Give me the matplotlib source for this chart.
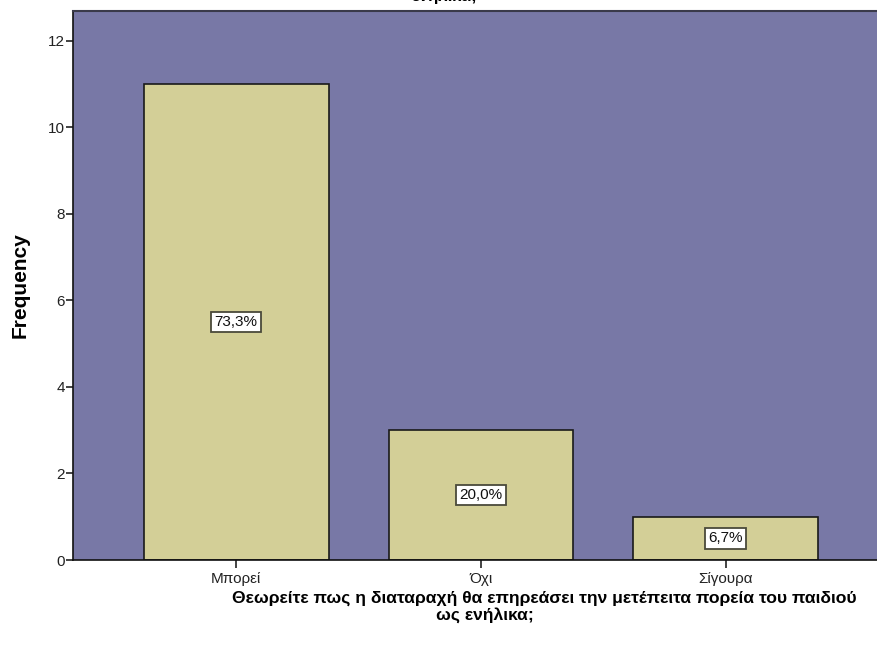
import matplotlib
matplotlib.use("Agg")
import matplotlib.pyplot as plt

plt.rcParams['font.family'] = ['Liberation Sans', 'DejaVu Sans']

categories = ["Μπορεί", "Όχι", "Σίγουρα"]
frequencies = [11, 3, 1]
percent_labels = ["73,3%", "20,0%", "6,7%"]
y_ticks = [0, 2, 4, 6, 8, 10, 12]

title_tail = "ενήλικα;"
xlabel_line1 = "Θεωρείτε πως η διαταραχή θα επηρεάσει την μετέπειτα πορεία του παιδιού"
xlabel_line2 = "ως ενήλικα;"

W, H = 878, 648
fig = plt.figure(figsize=(W / 100, H / 100), dpi=100)
fig.patch.set_facecolor("white")

left_px, right_px, top_px, bottom_px = 73, 889, 11, 560
ax = fig.add_axes([left_px / W, 1 - bottom_px / H,
                   (right_px - left_px) / W, (bottom_px - top_px) / H])
ax.set_facecolor("#7878a6")

x = list(range(len(categories)))
ax.bar(x, frequencies, width=0.755, color="#d3cf97", edgecolor="#1a1a1a",
       linewidth=1.2, zorder=2)

for xi, f, lab in zip(x, frequencies, percent_labels):
    ax.text(xi, f / 2, lab, ha="center", va="center", fontsize=11,
            color="#111111", zorder=3,
            bbox=dict(boxstyle="square,pad=0.22", facecolor="white",
                      edgecolor="#4a4a3a", linewidth=1.3))

ax.set_xlim(-0.667, 2.667)
ax.set_ylim(0, 12.69)
ax.set_yticks(y_ticks)
ax.set_xticks(x)
ax.set_xticklabels(categories)

ax.tick_params(axis="y", direction="out", length=5, width=1.2, color="#222222",
               labelsize=11, labelcolor="#222222", pad=1)
ax.tick_params(axis="x", direction="out", length=6, width=1.2, color="#222222",
               labelsize=11, labelcolor="#222222", pad=3)

for side in ("left", "bottom"):
    ax.spines[side].set_color("#111111")
    ax.spines[side].set_linewidth(1.2)
ax.spines["top"].set_color("#3a3a4a")
ax.spines["top"].set_linewidth(1.5)
ax.spines["right"].set_visible(False)

ax.set_ylabel("Frequency", fontsize=15, fontweight="bold", labelpad=13)

fig.text(444 / W, 1 - 1.5 / H, title_tail, ha="center", va="baseline",
         fontsize=12, fontweight="bold")
fig.text(544 / W, 1 - 598 / H, xlabel_line1, ha="center", va="center",
         fontsize=12.6, fontweight="bold")
fig.text(485 / W, 1 - 615 / H, xlabel_line2, ha="center", va="center",
         fontsize=12.6, fontweight="bold")

fig.savefig("out.png", dpi=100)
